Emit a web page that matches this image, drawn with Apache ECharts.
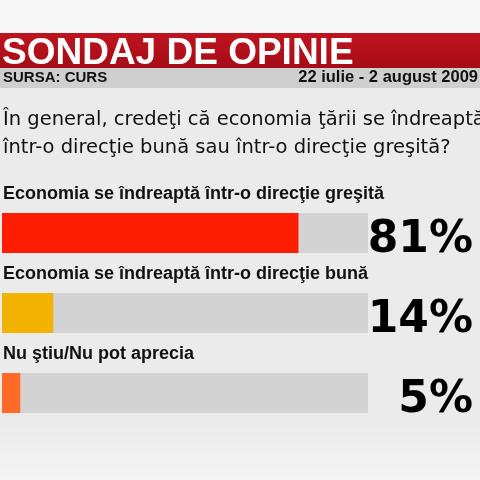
<!DOCTYPE html>
<html>
<head>
<meta charset="utf-8">
<script src="https://cdn.jsdelivr.net/npm/echarts@6/dist/echarts.min.js"></script>
<style>
  html, body { margin: 0; padding: 0; }
  #chart { width: 480px; height: 480px; }
</style>
</head>
<body>
<div id="chart"></div>
<script>
// date sondaj
var categories = [
  'Economia se îndreaptă într-o direcţie greşită',
  'Economia se îndreaptă într-o direcţie bună',
  'Nu ştiu/Nu pot aprecia'
]
var values = [81, 14, 5]
var barColors = ['#ff1d00', '#f4b200', '#ff6b27']
var titleText = 'SONDAJ DE OPINIE'
var sourceText = 'SURSA: CURS'
var periodText = '22 iulie - 2 august 2009'
var questionLines = [
  'În general, credeţi că economia ţării se îndreaptă',
  'într-o direcţie bună sau într-o direcţie greşită?'
]

var pctLabels = values.map(function (v) { return v + '%' })

var myChart = echarts.init(document.getElementById('chart'))

var option = {
  backgroundColor: '#ebebeb',
  animation: false,
  graphic: [
    // fundal sus, mai deschis
    { type: 'rect', shape: { x: 0, y: 0, width: 480, height: 33 }, style: { fill: '#f7f7f7' } },
    // jos, mai deschis
    {
      type: 'rect', shape: { x: 0, y: 425, width: 480, height: 55 },
      style: {
        fill: new echarts.graphic.LinearGradient(0, 0, 0, 1, [
          { offset: 0, color: '#ebebeb' },
          { offset: 1, color: '#f4f4f4' }
        ])
      }
    },
    // banda rosie
    {
      type: 'rect', shape: { x: 0, y: 33, width: 480, height: 35 },
      style: {
        fill: new echarts.graphic.LinearGradient(0, 0, 0, 1, [
          { offset: 0, color: '#c0141f' },
          { offset: 1, color: '#a50c16' }
        ])
      }
    },
    {
      type: 'text', left: 2, top: 35,
      style: { text: titleText, fill: '#ffffff', font: 'bold 37px "Liberation Sans"' }
    },
    // banda gri
    { type: 'rect', shape: { x: 0, y: 68, width: 480, height: 20 }, style: { fill: '#cfcfcf' } },
    {
      type: 'text', left: 3, top: 70,
      style: { text: sourceText, fill: '#111', font: 'bold 15px "Liberation Sans"' }
    },
    {
      type: 'text', right: 2, top: 69,
      style: { text: periodText, fill: '#111', font: 'bold 16.5px "Liberation Sans"' }
    },
    {
      type: 'text', left: 3, top: 106,
      style: { text: questionLines.join('\n'), fill: '#111', font: '19.5px "DejaVu Sans"', lineHeight: 28 }
    }
  ],
  grid: { left: 2, right: 112, top: 193, bottom: 47, containLabel: false },
  xAxis: { type: 'value', min: 0, max: 100, show: false },
  yAxis: [{
    type: 'category',
    data: categories,
    inverse: true,
    axisLine: { show: false },
    axisTick: { show: false },
    axisLabel: { show: false }
  }, {
    type: 'category',
    data: pctLabels,
    inverse: true,
    position: 'right',
    axisLine: { show: false },
    axisTick: { show: false },
    axisLabel: {
      align: 'right',
      verticalAlign: 'top',
      lineHeight: 16,
      margin: 105,
      color: '#000',
      fontFamily: 'DejaVu Sans',
      fontWeight: 'bold',
      fontSize: 44
    }
  }],
  series: [{
    type: 'bar',
    data: values.map(function (v, i) {
      return { value: v, itemStyle: { color: barColors[i] } }
    }),
    barWidth: 40,
    showBackground: true,
    backgroundStyle: { color: '#d3d3d3' },
    label: {
      show: true,
      position: [1, -19],
      verticalAlign: 'middle',
      formatter: '{b}',
      color: '#111',
      fontFamily: 'Liberation Sans',
      fontWeight: 'bold',
      fontSize: 18
    }
  }]
}

myChart.setOption(option)
</script>
</body>
</html>
